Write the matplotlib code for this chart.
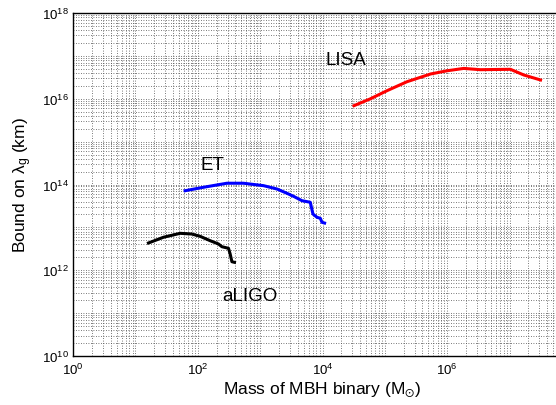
import numpy as np
import matplotlib
matplotlib.use("Agg")
import matplotlib.pyplot as plt
from matplotlib.ticker import FixedLocator, LogFormatterMathtext, NullFormatter

plt.rcParams['font.family'] = ['Liberation Sans', 'DejaVu Sans']
plt.rcParams['mathtext.default'] = 'regular'

# aLIGO
aligo_m = [16.2, 28.1, 52.2, 80.4, 109, 158, 215, 244, 311, 331, 353, 388]
aligo_l = [4.32e12, 5.87e12, 7.27e12, 7.0e12, 6.19e12, 4.89e12, 4.1e12,
           3.54e12, 3.25e12, 2.39e12, 1.58e12, 1.53e12]
# ET
et_m = [62.8, 123, 293, 542, 1134, 1862, 2692, 3436, 4690, 6370, 7030,
        8160, 9220, 9820, 1.08e4]
et_l = [7.16e13, 8.6e13, 1.07e14, 1.07e14, 9.4e13, 7.85e13, 6.24e13, 5.3e13,
        4.19e13, 3.85e13, 2.05e13, 1.72e13, 1.63e13, 1.31e13, 1.26e13]
# LISA
lisa_m = [3.2e4, 5.8e4, 1.08e5, 2.27e5, 5.4e5, 1.0e6, 1.84e6, 3.4e6, 1.03e7,
          1.69e7, 3.13e7]
lisa_l = [6.9e15, 9.9e15, 1.54e16, 2.5e16, 3.78e16, 4.5e16, 5.1e16, 4.76e16,
          4.86e16, 3.58e16, 2.74e16]

labels = ["aLIGO", "ET", "LISA"]
label_pos = [(246, 2.55e11), (109, 2.9e14), (1.1e4, 8.45e16)]

fig = plt.figure(figsize=(5.56, 4.06), dpi=100)
ax = fig.add_axes([73/556, 1-357/406, (572-73)/556, (357-14)/406])
ax.set_xscale('log')
ax.set_yscale('log')
ax.set_xlim(1, 1e8)
ax.set_ylim(1e10, 1e18)

ax.plot(aligo_m, aligo_l, color='k', lw=2.2)
ax.plot(et_m, et_l, color='#0000ff', lw=2.2)
ax.plot(lisa_m, lisa_l, color='#ff0000', lw=2.2)

for t, (x, y) in zip(labels, label_pos):
    ax.text(x, y, t, fontsize=13.5, ha='left', va='center')

ax.xaxis.set_major_locator(FixedLocator([10.0**k for k in range(0, 7, 2)]))
ax.xaxis.set_minor_locator(FixedLocator([i * 10.0**k for k in range(0, 8)
                                         for i in range(1, 10)
                                         if not (i == 1 and k % 2 == 0 and k <= 6)]))
ax.yaxis.set_major_locator(FixedLocator([10.0**k for k in range(10, 19, 2)]))
ax.yaxis.set_minor_locator(FixedLocator([i * 10.0**k for k in range(10, 18)
                                         for i in range(1, 10)
                                         if not (i == 1 and k % 2 == 0)]))
ax.xaxis.set_major_formatter(LogFormatterMathtext())
ax.yaxis.set_major_formatter(LogFormatterMathtext())
ax.xaxis.set_minor_formatter(NullFormatter())
ax.yaxis.set_minor_formatter(NullFormatter())

ax.grid(True, which='both', linestyle=(0, (1, 2)), color='0.3', lw=0.6)
ax.tick_params(which='both', direction='in', length=0, labelsize=9.5, pad=4)
ax.tick_params(axis='y', pad=3)
ax.spines['right'].set_visible(False)
for s in ax.spines.values():
    s.set_linewidth(1.0)

ax.set_xlabel(r'Mass of MBH binary (M$_{\odot}$)', fontsize=12.5, labelpad=2)
ax.set_ylabel(r'Bound on $\lambda_g$ (km)', fontsize=12.5, labelpad=6)

fig.savefig('out.png', dpi=100)
